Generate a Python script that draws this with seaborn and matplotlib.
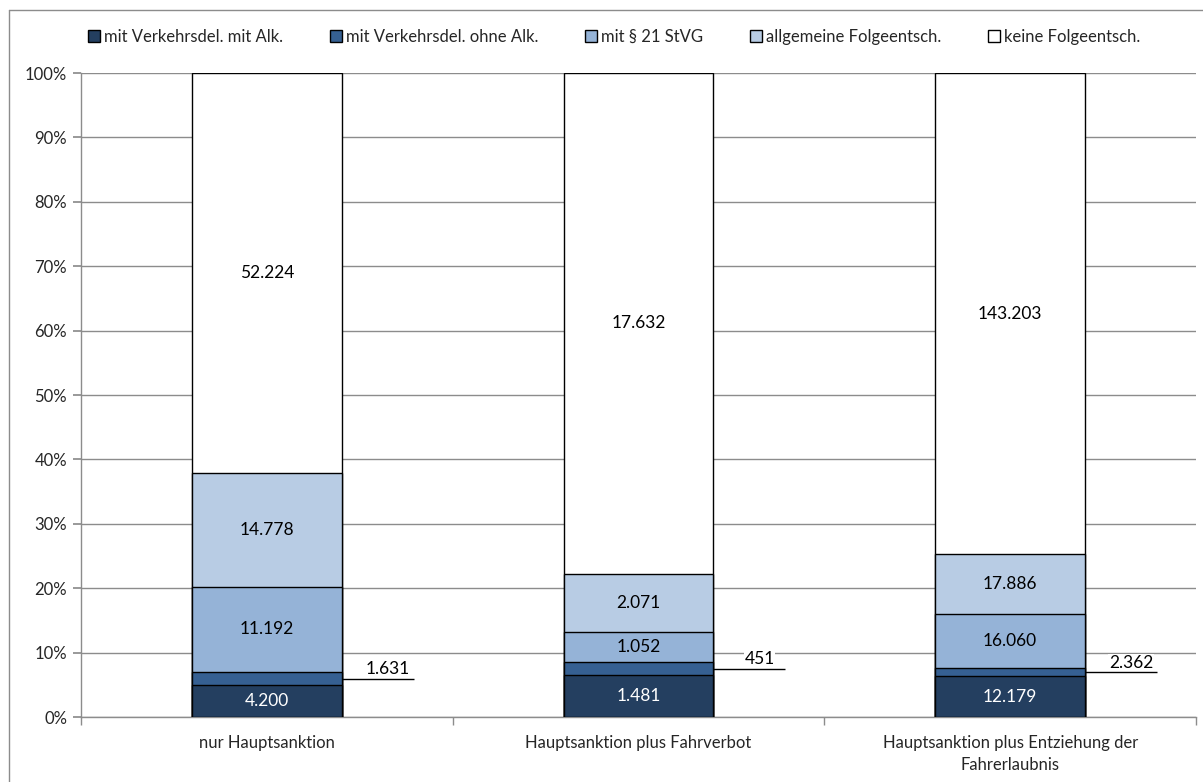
import matplotlib
matplotlib.use("Agg")
import matplotlib.pyplot as plt
from matplotlib.patches import Patch
from matplotlib.lines import Line2D
import numpy as np
import pandas as pd
import seaborn as sns

sns.set_theme(style="white")
plt.rcParams["font.family"] = ["Lato", "DejaVu Sans"]

categories = ["nur Hauptsanktion",
              "Hauptsanktion plus Fahrverbot",
              "Hauptsanktion plus Entziehung der\nFahrerlaubnis"]
series = ["mit Verkehrsdel. mit Alk.",
          "mit Verkehrsdel. ohne Alk.",
          "mit § 21 StVG",
          "allgemeine Folgeentsch.",
          "keine Folgeentsch."]
mit_alk = [4200, 1481, 12179]
ohne_alk = [1631, 451, 2362]
stvg21 = [11192, 1052, 16060]
allgemein = [14778, 2071, 17886]
keine = [52224, 17632, 143203]

colors = ["#243F60", "#366092", "#95B3D7", "#B8CCE4", "#FFFFFF"]

counts = np.array([mit_alk, ohne_alk, stvg21, allgemein, keine], dtype=float)
shares = counts / counts.sum(axis=0) * 100
cum = np.cumsum(shares, axis=0)

W, H = 1203, 782
fig = plt.figure(figsize=(W / 100, H / 100), dpi=100)
ax = fig.add_axes([81 / W, 1 - 717 / H, (1196 - 81) / W, (717 - 73) / H])

# Stacked bars: draw cumulative totals from the top segment down
for i in range(len(series) - 1, -1, -1):
    df = pd.DataFrame({"cat": categories, "val": cum[i]})
    sns.barplot(data=df, x="cat", y="val", order=categories, color=colors[i],
                width=0.403, edgecolor="black", linewidth=1.0, saturation=1,
                ax=ax, zorder=3)

ax.set_xlim(-0.5, 2.5)
ax.set_ylim(0, 100)
ax.set_yticks(np.arange(0, 101, 10))
ax.set_yticklabels([f"{v}%" for v in range(0, 101, 10)], fontsize=12)
ax.yaxis.grid(True, color="#8C8C8C", linewidth=1.0, zorder=0)
ax.set_axisbelow(True)
ax.set_xlabel("")
ax.set_ylabel("")
ax.set_xticks(range(3))
ax.set_xticklabels(categories, fontsize=12, linespacing=1.45)
ax.set_xticks([-0.5, 0.5, 1.5, 2.5], minor=True)
ax.tick_params(axis="x", which="major", length=0, pad=13)
ax.tick_params(axis="x", which="minor", length=6, color="#8C8C8C", direction="out", bottom=True)
ax.tick_params(axis="y", length=6, color="#8C8C8C", direction="out", left=True, pad=4)
for s in ["top", "right"]:
    ax.spines[s].set_visible(False)
for s in ["left", "bottom"]:
    ax.spines[s].set_color("#8C8C8C")
    ax.spines[s].set_linewidth(1.0)

def fmt(v):
    return f"{int(v):,}".replace(",", ".")

half = 0.403 / 2
for j in range(len(categories)):
    for i in range(len(series)):
        lo = cum[i - 1][j] if i > 0 else 0.0
        mid = (lo + cum[i][j]) / 2
        if i == 1:
            x0 = j + half
            ax.plot([x0, x0 + 0.194], [mid, mid], color="black", lw=1.0, zorder=5,
                    solid_capstyle="butt")
            ax.text(x0 + 0.124, mid + 0.2, fmt(counts[i][j]), ha="center", va="bottom",
                    fontsize=12.5, color="black", zorder=4,
                    bbox=dict(facecolor="white", edgecolor="none", pad=0.5))
        else:
            ax.text(j, mid, fmt(counts[i][j]), ha="center", va="center",
                    fontsize=12.5, color="white" if i == 0 else "black", zorder=6)

handles = [Patch(facecolor=c, edgecolor="black", linewidth=1.0) for c in colors]
fig.legend(handles, series, loc="center", bbox_to_anchor=(614 / W, 1 - 37 / H), ncol=5,
           frameon=False, fontsize=12, handlelength=0.72, handleheight=0.72,
           handletextpad=0.25, columnspacing=2.8)

# Chart-area frame
fig.add_artist(Line2D([9 / W, 9 / W], [0, 1 - 10 / H], color="#8C8C8C", lw=1.0,
                      transform=fig.transFigure))
fig.add_artist(Line2D([9 / W, 1], [1 - 10 / H, 1 - 10 / H], color="#8C8C8C", lw=1.0,
                      transform=fig.transFigure))

fig.savefig("out.png", dpi=100, facecolor="white")
